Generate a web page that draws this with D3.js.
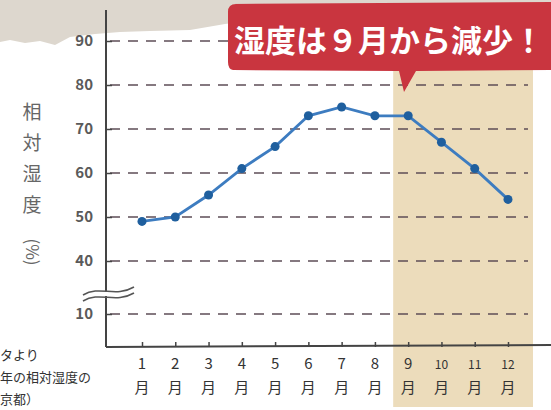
<!DOCTYPE html>
<html>
<head>
<meta charset="utf-8">
<script src="https://cdn.jsdelivr.net/npm/d3@7"></script>
<style>
  body { margin: 0; background: #fff; }
  svg { display: block; font-family: "Noto Sans CJK JP", "Noto Sans", sans-serif; }
</style>
</head>
<body>
<div id="frame1"></div>
<script>
// data
const months = ["1", "2", "3", "4", "5", "6", "7", "8", "9", "10", "11", "12"];
const humidity = [49, 50, 55, 61, 66, 73, 75, 73, 73, 67, 61, 54];
const yTicks = [10, 40, 50, 60, 70, 80, 90];
const yTitle = ["相", "対", "湿", "度"];
const sourceLines = ["タより", "年の相対湿度の", "京都）"];
const headline = "湿度は９月から減少！";

const FRAME_WIDTH = 551;
const FRAME_HEIGHT = 410;

const FRAME1 = d3.select("#frame1")
  .append("svg")
    .attr("width", FRAME_WIDTH)
    .attr("height", FRAME_HEIGHT);

// scales: broken axis between 10 and 40
const X_SCALE = d3.scalePoint()
  .domain(months)
  .range([142, 508]);

const Y_SCALE = d3.scaleLinear()
  .domain([10, 40, 90])
  .range([314, 261, 41]);

const AXIS_X = 106;
const AXIS_Y = 347;

// grey torn paper at the top
const tear = [[0, 0], [551, 0], [551, 6], [300, 12], [240, 22], [225, 24], [190, 30], [150, 31], [120, 32],
  [95, 34], [70, 37], [55, 45], [40, 41], [25, 43], [10, 40], [0, 42]];
FRAME1.append("path")
  .attr("d", d3.line()(tear) + "Z")
  .attr("fill", "#ddd7ce");

// highlighted band for Sep-Dec
FRAME1.append("rect")
  .attr("x", X_SCALE("9") - 15)
  .attr("y", 20)
  .attr("width", X_SCALE("12") - X_SCALE("9") + 40)
  .attr("height", 387)
  .attr("fill", "#ecdcbb");

// dashed grid
FRAME1.selectAll(".grid")
  .data(yTicks)
  .enter()
  .append("line")
    .attr("x1", AXIS_X + 4)
    .attr("x2", 528)
    .attr("y1", d => Y_SCALE(d))
    .attr("y2", d => Y_SCALE(d))
    .attr("stroke", "#5e4e57")
    .attr("stroke-width", 1.3)
    .attr("stroke-dasharray", "10,8");

// y axis
const yAxis = FRAME1.append("g")
  .attr("transform", "translate(" + AXIS_X + ",0)")
  .call(d3.axisRight(Y_SCALE).tickValues(yTicks).tickSize(6).tickFormat(""));
yAxis.select(".domain").remove();
yAxis.selectAll("line").attr("stroke", "#444").attr("stroke-width", 1.5);

FRAME1.append("line")
  .attr("x1", AXIS_X).attr("x2", AXIS_X)
  .attr("y1", 10).attr("y2", AXIS_Y)
  .attr("stroke", "#444").attr("stroke-width", 2);

FRAME1.selectAll(".ylab")
  .data(yTicks)
  .enter()
  .append("text")
    .attr("x", 93)
    .attr("y", d => Y_SCALE(d))
    .attr("dy", "0.35em")
    .attr("text-anchor", "end")
    .attr("font-size", 15)
    .attr("font-weight", "bold")
    .attr("fill", "#5a5a5a")
    .text(d => d);

// axis break squiggle
[0, 6].forEach(off => {
  FRAME1.append("path")
    .attr("d", "M83," + (295 + off) + " C100," + (285 + off) + " 115," + (298 + off) + " 134," + (287 + off))
    .attr("fill", "none")
    .attr("stroke", "#555")
    .attr("stroke-width", 1.5);
});
FRAME1.append("rect")
  .attr("x", AXIS_X - 2).attr("y", 292).attr("width", 4).attr("height", 4)
  .attr("fill", "#fff");

// x axis
const xAxis = FRAME1.append("g")
  .attr("transform", "translate(0," + AXIS_Y + ")")
  .call(d3.axisTop(X_SCALE).tickSize(5).tickFormat(""));
xAxis.select(".domain").remove();
xAxis.selectAll("line").attr("stroke", "#444").attr("stroke-width", 1.5);

FRAME1.append("line")
  .attr("x1", AXIS_X).attr("x2", FRAME_WIDTH)
  .attr("y1", AXIS_Y).attr("y2", AXIS_Y - 2)
  .attr("stroke", "#444").attr("stroke-width", 2);

const mLab = FRAME1.selectAll(".mlab")
  .data(months)
  .enter()
  .append("g")
    .attr("transform", d => "translate(" + X_SCALE(d) + ",0)");
mLab.append("text")
  .attr("y", 369)
  .attr("text-anchor", "middle")
  .attr("font-size", d => d.length > 1 ? 12 : 15)
  .attr("fill", "#333")
  .text(d => d);
mLab.append("text")
  .attr("y", 393)
  .attr("text-anchor", "middle")
  .attr("font-size", 15)
  .attr("fill", "#333")
  .text("月");

// y title
FRAME1.selectAll(".ytitle")
  .data(yTitle)
  .enter()
  .append("text")
    .attr("x", 32)
    .attr("y", (d, i) => 119 + i * 31)
    .attr("text-anchor", "middle")
    .attr("font-size", 19)
    .attr("fill", "#666")
    .text(d => d);
FRAME1.append("text")
  .attr("transform", "translate(32,252) rotate(90)")
  .attr("text-anchor", "middle")
  .attr("dy", "0.35em")
  .attr("font-size", 17)
  .attr("fill", "#666")
  .text("(%)");

// humidity line
FRAME1.append("path")
  .datum(humidity)
  .attr("d", d3.line().x((d, i) => X_SCALE(months[i])).y(d => Y_SCALE(d)))
  .attr("fill", "none")
  .attr("stroke", "#3d7cc0")
  .attr("stroke-width", 2.8);

FRAME1.selectAll(".point")
  .data(humidity)
  .enter()
  .append("circle")
    .attr("cx", (d, i) => X_SCALE(months[i]))
    .attr("cy", d => Y_SCALE(d))
    .attr("r", 4.5)
    .attr("fill", "#1f5f9e");

// source note
FRAME1.selectAll(".src")
  .data(sourceLines)
  .enter()
  .append("text")
    .attr("x", 0)
    .attr("y", (d, i) => 360 + i * 22)
    .attr("font-size", 13)
    .attr("fill", "#333")
    .text(d => d);

// red banner
FRAME1.append("path")
  .attr("d", "M232,4 L551,2 L551,70 L416,71 L404,92 L399,71 L233,70 Q228,69 228,62 L228,12 Q228,4 236,4 Z")
  .attr("fill", "#c9353f");
FRAME1.append("text")
  .attr("x", 389)
  .attr("y", 52)
  .attr("text-anchor", "middle")
  .attr("font-size", 31)
  .attr("font-weight", "bold")
  .attr("fill", "#fff")
  .text(headline);
</script>
</body>
</html>
